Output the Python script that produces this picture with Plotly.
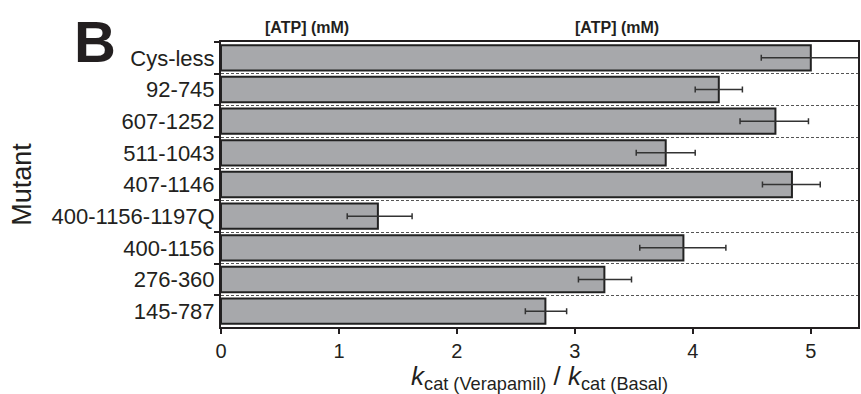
import plotly.graph_objects as go

mutants = ["Cys-less", "92-745", "607-1252", "511-1043", "407-1146",
           "400-1156-1197Q", "400-1156", "276-360", "145-787"]
ratio = [5.00, 4.22, 4.70, 3.77, 4.84, 1.33, 3.92, 3.25, 2.75]
err_plus = [0.45, 0.20, 0.28, 0.25, 0.24, 0.29, 0.36, 0.23, 0.18]
err_minus = [0.42, 0.20, 0.30, 0.25, 0.25, 0.26, 0.37, 0.22, 0.17]
x_ticks = [0, 1, 2, 3, 4, 5]

FONT = "Liberation Sans, Arial, sans-serif"
INK = "#231f20"

L, R, T, B = 221, 1, 42, 67
W, H = 861, 394

fig = go.Figure()
fig.add_trace(go.Bar(
    x=ratio, y=mutants, orientation="h", width=0.8,
    marker=dict(color="#a7a8ab", line=dict(color="#222222", width=2)),
    error_x=dict(type="data", symmetric=False, array=err_plus, arrayminus=err_minus,
                 color="#333333", thickness=1.5, width=3),
))

fig.update_layout(
    width=W, height=H,
    margin=dict(l=L, r=R, t=T, b=B),
    paper_bgcolor="white", plot_bgcolor="white",
    font=dict(family=FONT, color=INK),
    showlegend=False,
    xaxis=dict(range=[0, 5.40], tickvals=x_ticks, ticks="outside", ticklen=5,
               tickwidth=2, tickcolor=INK,
               showline=True, linecolor=INK, linewidth=2, mirror=True,
               showgrid=False, zeroline=False, tickfont=dict(size=20),
               title=dict(text="<i>k</i><sub>cat (Verapamil)</sub> / <i>k</i><sub>cat (Basal)</sub>",
                          font=dict(size=26), standoff=0)),
    yaxis=dict(categoryorder="array", categoryarray=mutants, autorange="reversed",
               tickson="boundaries", ticks="outside", ticklen=5, tickwidth=2,
               tickcolor=INK,
               showline=True, linecolor=INK, linewidth=2, mirror=True,
               showgrid=True, gridcolor="#555555", gridwidth=1, griddash="3px,2px",
               tickfont=dict(size=22),
               title=dict(text="Mutant", font=dict(size=27), standoff=12)),
)

pw = W - L - R
ph = H - T - B
def px_to_paper(px, py):
    return (px - L) / pw, (H - B - py) / ph

bx, by = px_to_paper(73, 8)
a1x, a1y = px_to_paper(263, 17)
a2x, a2y = px_to_paper(662, 17)
fig.add_annotation(text="<b>B</b>", x=bx, y=by, xref="paper", yref="paper",
                   xanchor="left", yanchor="top", borderpad=0,
                   showarrow=False, font=dict(size=58, color=INK))
fig.add_annotation(text="<b>[ATP] (mM)</b>", x=a1x, y=a1y, xref="paper", yref="paper",
                   showarrow=False, font=dict(size=16, color=INK))
fig.add_annotation(text="<b>[ATP] (mM)</b>", x=a2x, y=a2y, xref="paper", yref="paper",
                   showarrow=False, font=dict(size=16, color=INK))

fig.write_html("out.html")
